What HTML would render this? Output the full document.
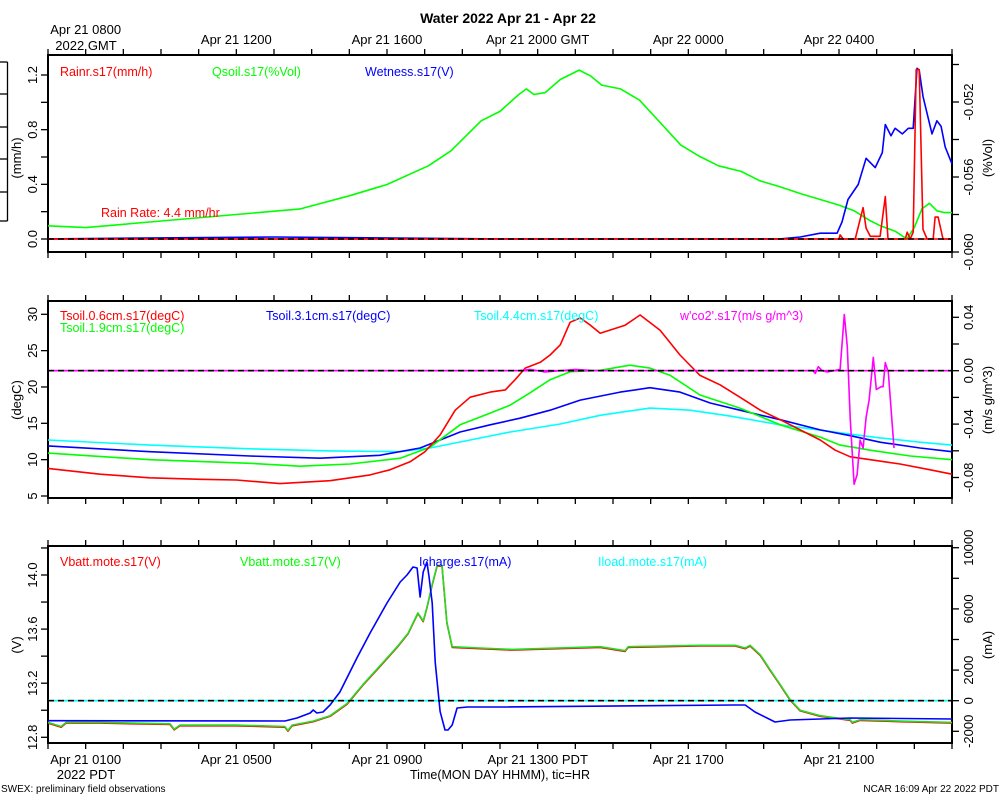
<!DOCTYPE html>
<html><head><meta charset="utf-8"><style>
body{margin:0;background:#fff}
svg{display:block;font-family:"Liberation Sans",sans-serif}
</style></head><body>
<svg id="chart" width="1000" height="800" viewBox="0 0 1000 800" xmlns="http://www.w3.org/2000/svg">
<text x="508" y="23" text-anchor="middle" font-size="14" font-weight="bold">Water 2022 Apr 21 - Apr 22</text>
<text x="1" y="792" font-size="10">SWEX: preliminary field observations</text>
<text x="999" y="792" font-size="10" text-anchor="end">NCAR 16:09 Apr 22 2022 PDT</text>
<text x="500" y="779" font-size="12.5" text-anchor="middle">Time(MON DAY HHMM), tic=HR</text>
<text x="86" y="779" font-size="13" text-anchor="middle">2022 PDT</text>
<text x="86" y="50" font-size="13" text-anchor="middle">2022 GMT</text>
<g id="g"></g>
</svg>
<script>
// ---- shared time axis (hours since Apr 21 0700 GMT / 0000 PDT) ----
const topTickLabels = ["Apr 21 0800","Apr 21 1200","Apr 21 1600","Apr 21 2000 GMT","Apr 22 0000","Apr 22 0400"];
const bottomTickLabels = ["Apr 21 0100","Apr 21 0500","Apr 21 0900","Apr 21 1300 PDT","Apr 21 1700","Apr 21 2100"];
const labelHours = [1,5,9,13,17,21];

// ---- panel 1: water ----
const qsoilT = [0,1,2.7,5,6.7,8,9,10.1,10.7,11.1,11.5,12,12.5,12.7,12.9,13.2,13.6,14.1,14.4,14.7,15.2,15.7,16.3,16.8,17.3,17.8,18.4,18.9,19.4,20,20.5,21,21.4,21.8,22.1,22.5,22.8,23,23.2,23.4,23.6,23.8,24];
const qsoilV = [-0.0586,-0.0587,-0.0584,-0.0580,-0.0577,-0.0570,-0.0564,-0.0554,-0.0546,-0.0538,-0.0530,-0.0525,-0.0516,-0.0513,-0.0516,-0.0515,-0.0508,-0.0503,-0.0506,-0.0511,-0.0513,-0.0519,-0.0532,-0.0543,-0.0549,-0.0554,-0.0557,-0.0562,-0.0565,-0.0569,-0.0572,-0.0575,-0.0578,-0.0583,-0.0586,-0.0589,-0.0593,-0.0587,-0.0577,-0.0574,-0.0578,-0.0579,-0.0579];
const wetT = [0,6,12,19.44,19.97,20.5,20.95,21.08,21.24,21.51,21.72,21.96,22.15,22.23,22.38,22.49,22.68,22.84,22.97,23.07,23.13,23.23,23.47,23.6,23.71,23.82,24];
const wetV = [-0.0593,-0.0592,-0.0593,-0.0593,-0.0592,-0.0590,-0.0590,-0.0584,-0.0572,-0.0564,-0.0550,-0.0555,-0.0547,-0.0532,-0.0538,-0.0534,-0.0537,-0.0534,-0.0534,-0.0502,-0.0503,-0.0517,-0.0537,-0.0530,-0.0533,-0.0544,-0.0553];
const rainT = [0,21,21.03,21.11,21.43,21.64,21.72,21.83,22.09,22.23,22.3,22.76,22.81,22.89,22.97,23.05,23.13,23.23,23.34,23.5,23.55,23.63,23.76,24];
const rainV = [0,0,0.03,0,0,0.23,0.08,0.02,0.02,0.31,0,0,0.05,0,0.05,1.24,1.24,0.07,0,0,0.16,0.16,0,0];

// ---- panel 2: soil temperature ----
const t06T = [0,1.38,2.7,4.05,5,6.16,7.49,8.55,9.08,9.61,10.01,10.41,10.81,11.21,11.74,12.14,12.4,12.67,13.07,13.33,13.6,13.86,14.13,14.4,14.66,15.32,15.72,16.25,16.78,17.31,17.84,18.37,18.91,19.44,19.97,20.5,20.9,21.3,21.83,22.62,23.42,24];
const t06V = [8.8,8.0,7.5,7.3,7.2,6.7,7.1,7.9,8.6,9.7,11.1,13.4,16.8,18.6,19.3,19.6,21.0,22.6,23.4,24.4,25.8,28.9,29.5,28.5,27.4,28.5,29.9,27.8,24.4,21.6,20.3,18.6,16.8,15.5,14.1,12.7,11.3,10.4,10.0,9.4,8.6,8.0];
const t19T = [0,2.71,5.36,6.69,8.02,9.35,10.14,10.94,11.74,12.27,12.8,13.33,13.86,14.66,15.45,15.98,16.52,17.31,18.37,19.44,20.5,21.03,21.83,22.89,24];
const t19V = [10.9,10.0,9.5,9.1,9.4,10.2,11.7,14.8,16.4,17.5,19.2,21.0,22.1,22.3,23.0,22.6,21.6,18.9,17.1,14.8,13.1,12.0,11.3,10.5,10.0];
const t31T = [0,2.71,5.36,7.22,8.81,9.88,10.94,11.74,12.53,13.33,14.13,15.19,15.98,16.78,17.58,18.37,19.44,20.5,21.3,22.09,23.15,24];
const t31V = [11.9,11.1,10.5,10.2,10.6,11.6,13.8,14.8,15.7,16.8,18.2,19.3,19.9,19.3,17.8,16.8,15.5,14.1,13.3,12.4,11.6,11.1];
const t44T = [0,2.71,5.36,7.49,9.35,10.14,11.21,12.27,13.6,14.66,15.98,17.05,18.11,19.44,21.03,22.09,23.15,24];
const t44V = [12.7,12.0,11.5,11.2,11.1,11.6,12.7,13.8,14.9,16.1,17.1,16.8,16.0,14.8,13.7,13.0,12.4,12.0];
const co2T = [0,12.5,12.8,13.2,14.0,14.5,15.0,20.31,20.37,20.45,20.55,20.69,21.03,21.14,21.22,21.3,21.4,21.48,21.56,21.64,21.72,21.8,21.91,21.99,22.12,22.17,22.23,22.31,22.46];
const co2V = [0,0,0.001,-0.001,0.001,0,0,0,-0.002,0.003,0,-0.001,0.001,0.042,0.018,-0.037,-0.085,-0.078,-0.052,-0.058,-0.035,-0.022,0.010,-0.014,-0.012,-0.012,0.006,-0.001,-0.058];

// ---- panel 3: power ----
const vbT = [0,0.35,0.48,1.38,3.24,3.35,3.5,5,6.29,6.37,6.48,7.04,7.49,7.94,8.36,8.82,9.27,9.56,9.82,9.96,10.06,10.2,10.33,10.46,10.59,10.73,11.47,12.32,14.66,15.32,15.4,17.31,18.24,18.51,18.64,18.91,19.17,19.44,19.7,19.97,20.5,21.03,21.3,21.35,21.56,22.62,24];
const vbV = [12.91,12.88,12.91,12.91,12.90,12.86,12.89,12.89,12.88,12.85,12.89,12.92,12.96,13.05,13.19,13.33,13.47,13.57,13.72,13.66,13.76,13.93,14.07,14.07,13.65,13.47,13.46,13.45,13.47,13.44,13.47,13.48,13.48,13.46,13.48,13.41,13.30,13.19,13.08,13.00,12.96,12.94,12.93,12.91,12.93,12.92,12.91];
const vbRedV = vbV.map(v=>v-0.005);
const ichT = [0,6.29,6.61,6.96,7.04,7.14,7.3,7.49,7.75,8.2,8.55,9.0,9.35,9.53,9.69,9.8,9.88,9.96,10.06,10.12,10.2,10.28,10.41,10.54,10.62,10.73,10.86,11.13,12,18.24,18.51,18.77,19.3,19.7,21.3,24];
const ichV = [-1307,-1327,-1131,-804,-608,-804,-740,-281,569,2791,4425,6386,7758,8216,8739,8673,6778,8412,9065,8020,6386,2529,-700,-1915,-1915,-1588,-477,-412,-412,-280,-280,-739,-1392,-1260,-1131,-1196];
const iloadT = [0,24];
const iloadV = [0,0];

const NS="http://www.w3.org/2000/svg";
const G=document.getElementById('g');
const X0=48,X1=952;
const xs = h => X0 + h*(X1-X0)/24;
function el(tag, attrs, parent){const e=document.createElementNS(NS,tag);for(const k in attrs)e.setAttribute(k,attrs[k]);(parent||G).appendChild(e);return e;}
function lin(v0,y0,v1,y1){return v=>y0+(v-v0)*(y1-y0)/(v1-v0);}

const panels=[{top:55,bot:252,name:'water-panel'},{top:301,bot:498,name:'temperature-panel'},{top:546,bot:743,name:'power-panel'}];
panels.forEach(p=>{
  const r=el('rect',{x:X0,y:p.top,width:X1-X0,height:p.bot-p.top,fill:'none',stroke:'#000','stroke-width':2});
  
  
  for(let k=0;k<=24;k++){
    const x=xs(k);
    el('line',{x1:x,x2:x,y1:p.top,y2:p.top-6,stroke:'#000','stroke-width':1.3});
    el('line',{x1:x,x2:x,y1:p.bot,y2:p.bot+6,stroke:'#000','stroke-width':1.3});
  }
});
labelHours.forEach((h,i)=>{
  const t=el('text',{x:xs(h),y:i==0?34:44,'font-size':13,'text-anchor':'middle'});
  t.textContent=topTickLabels[i];
  
  
  const b=el('text',{x:xs(h),y:764,'font-size':13,'text-anchor':'middle'});
  b.textContent=bottomTickLabels[i];
  
  
});

function yAxis(side,scale,ticks,labels,fmt,title,titleY){
  const xa= side=='L'?X0:X1;
  const d= side=='L'?-7:7;
  ticks.forEach(v=>el('line',{x1:xa,x2:xa+d,y1:scale(v),y2:scale(v),stroke:'#000','stroke-width':1.3}));
  labels.forEach(v=>{
    const y=scale(v), x= side=='L'?37:973;
    const t=el('text',{x:x,y:y,'font-size':13,'text-anchor':'middle',transform:`rotate(-90 ${x} ${y})`});
    t.textContent=fmt(v);
    
    
  });
  const tx= side=='L'?21:992;
  const tt=el('text',{x:tx,y:titleY,'font-size':13,'text-anchor':'middle',transform:`rotate(-90 ${tx} ${titleY})`});
  tt.textContent=title;
  
  
}
function series(T,V,scale,color,name,w){
  const pts=T.map((t,i)=>xs(t).toFixed(1)+','+scale(V[i]).toFixed(1)).join(' ');
  const p=el('polyline',{points:pts,fill:'none',stroke:color,'stroke-width':w||1.6,'stroke-linejoin':'round'});
  
  
}
function zeroLine(y,color2){
  if(color2) el('line',{x1:X0,x2:X1,y1:y,y2:y,stroke:color2,'stroke-width':1.6});
  const l=el('line',{x1:X0,x2:X1,y1:y,y2:y,stroke:'#000','stroke-width':1.6,'stroke-dasharray':'6,4'});
  
  
}
function legend(x,y,txt,color){
  const t=el('text',{x:x,y:y,'font-size':12.5,fill:color});
  t.textContent=txt;
  
  
}

el('line',{x1:7.5,x2:7.5,y1:62,y2:221,stroke:'#000','stroke-width':1.3});
[62,94,127,159,192,221].forEach(y=>el('line',{x1:0,x2:7.5,y1:y,y2:y,stroke:'#000','stroke-width':1.3}));

// panel 1
const yRain=lin(0,239,1.2,75), yVol=lin(-0.060,252,-0.052,102);
yAxis('L',yRain,[0,0.2,0.4,0.6,0.8,1.0,1.2],[0,0.4,0.8,1.2],v=>v.toFixed(1),'(mm/h)',158);
yAxis('R',yVol,[-0.060,-0.058,-0.056,-0.054,-0.052,-0.050],[-0.060,-0.056,-0.052],v=>v.toFixed(3),'(%Vol)',158);
series(qsoilT,qsoilV,yVol,'#00ff00','qsoil-line');
series(wetT,wetV,yVol,'#0000ff','wetness-line');
series(rainT,rainV,yRain,'#ff0000','rain-line');
zeroLine(yRain(0),'#ff0000');
legend(60,76,'Rainr.s17(mm/h)','#ff0000');
legend(212,76,'Qsoil.s17(%Vol)','#00ff00');
legend(365,76,'Wetness.s17(V)','#0000ff');
legend(101,217,'Rain Rate: 4.4 mm/hr','#ff0000');

// panel 2
const yT=lin(5,496,30,314.3), yC=lin(0,370.7,0.04,317.3);
yAxis('L',yT,[5,10,15,20,25,30],[5,10,15,20,25,30],v=>String(v),'(degC)',400);
yAxis('R',yC,[-0.08,-0.06,-0.04,-0.02,0,0.02,0.04],[-0.08,-0.04,0,0.04],v=>v.toFixed(2),'(m/s g/m^3)',400);
series(t44T,t44V,yT,'#00ffff','tsoil-4.4cm-line');
series(t31T,t31V,yT,'#0000ff','tsoil-3.1cm-line');
series(t19T,t19V,yT,'#00ff00','tsoil-1.9cm-line');
series(t06T,t06V,yT,'#ff0000','tsoil-0.6cm-line');
series(co2T,co2V,yC,'#ff00ff','wco2-flux-line');
zeroLine(yC(0),'#ff00ff');
legend(60,320,'Tsoil.0.6cm.s17(degC)','#ff0000');
legend(60,332,'Tsoil.1.9cm.s17(degC)','#00ff00');
legend(266,320,'Tsoil.3.1cm.s17(degC)','#0000ff');
legend(474,320,'Tsoil.4.4cm.s17(degC)','#00ffff');
legend(680,320,"w'co2'.s17(m/s g/m^3)",'#ff00ff');

// panel 3
const yV=lin(12.8,737.3,14.0,575), yA=lin(0,700.7,10000,547.7);
yAxis('L',yV,[12.8,13.0,13.2,13.4,13.6,13.8,14.0,14.2],[12.8,13.2,13.6,14.0],v=>v.toFixed(1),'(V)',645);
yAxis('R',yA,[-2000,0,2000,4000,6000,8000,10000],[-2000,0,2000,6000,10000],v=>String(v),'(mA)',645);
series(iloadT,iloadV,yA,'#00ffff','iload-line');
series(vbT,vbRedV,yV,'#ff0000','vbatt-red-line');
series(vbT,vbV,yV,'#22dd22','vbatt-green-line');
series(ichT,ichV,yA,'#0000ff','icharge-line');
zeroLine(yA(0),'#00ffff');
legend(60,566,'Vbatt.mote.s17(V)','#ff0000');
legend(240,566,'Vbatt.mote.s17(V)','#00ff00');
legend(419,566,'Icharge.s17(mA)','#0000ff');
legend(598,566,'Iload.mote.s17(mA)','#00ffff');
</script>
</body></html>
